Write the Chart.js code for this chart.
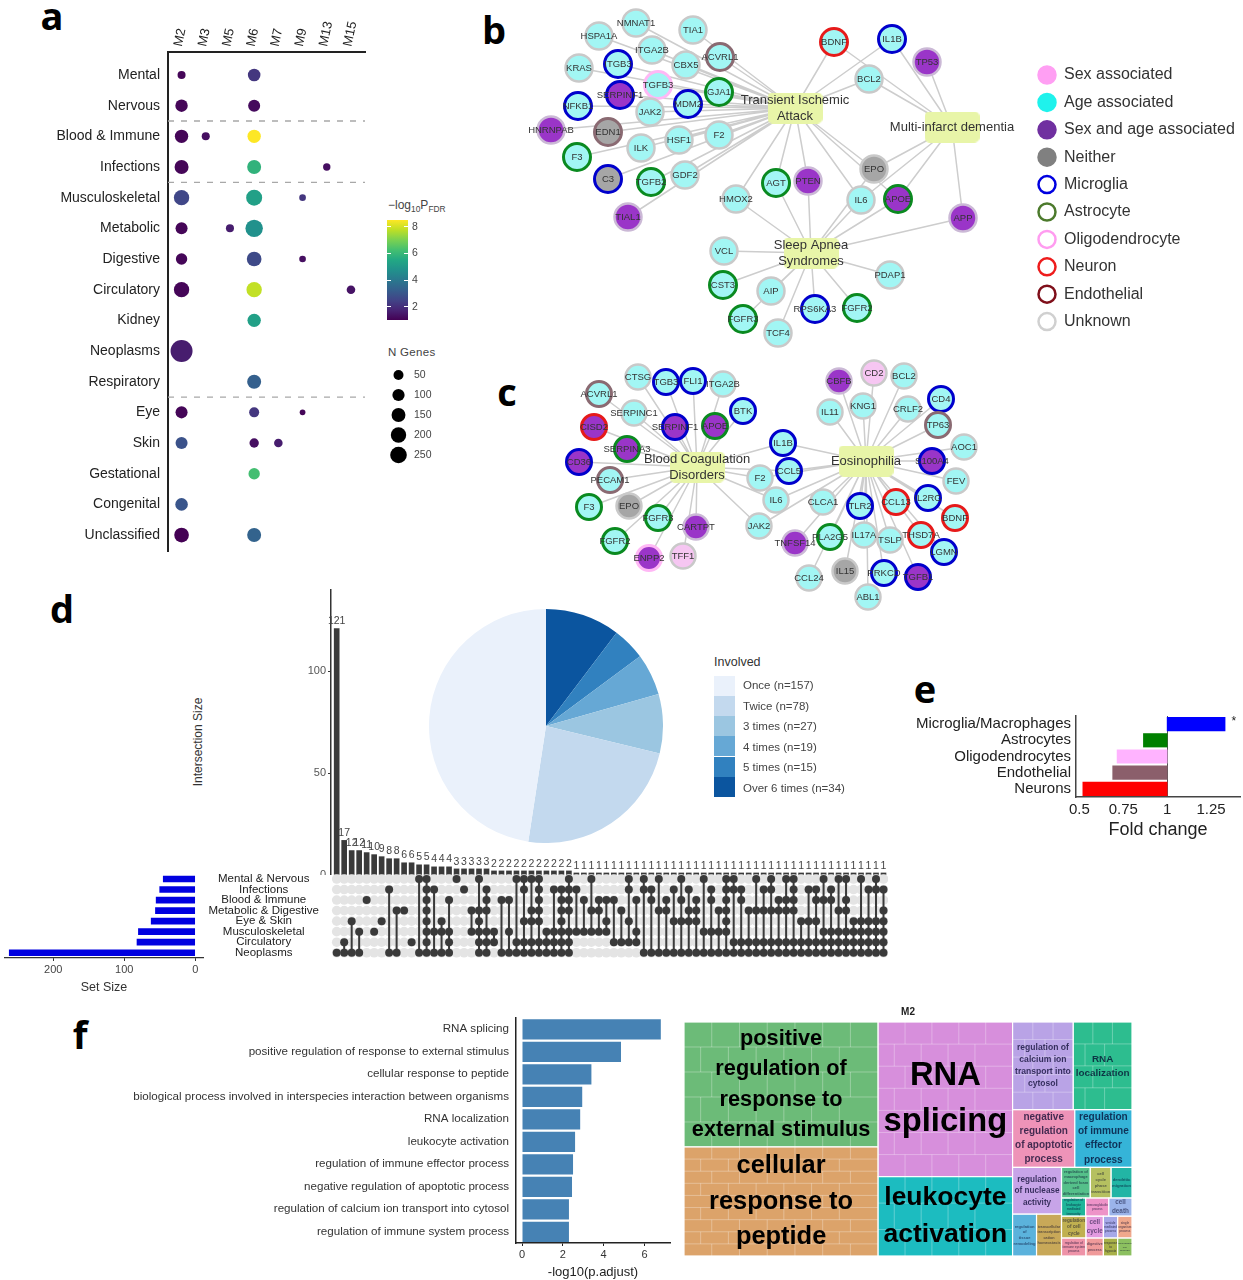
<!DOCTYPE html>
<html>
<head>
<meta charset="utf-8">
<title>Disease enrichment figure</title>
<script src="https://cdn.jsdelivr.net/npm/chart.js@4"></script>
<style>
  html, body { margin: 0; padding: 0; background: #fff; }
  #page { position: relative; width: 1243px; height: 1280px; overflow: hidden; font-family: "Liberation Sans", Arial, sans-serif; color: #333; }
  #page canvas { position: absolute; }
  .txt { position: absolute; white-space: nowrap; line-height: 1; }
  .letter { font: 700 38px "Open Sans", sans-serif; color: #000; transform: translate(-50%, -50%); }
  .swatch { position: absolute; width: 21px; height: 20px; }
  sub { font-size: 70%; }
</style>
</head>
<body>
<div id="page"></div>
<script>
// ---- panel a: modules vs disease groups
const moduleNames = ['M2', 'M3', 'M5', 'M6', 'M7', 'M9', 'M13', 'M15'];
const diseaseNames = ['Mental', 'Nervous', 'Blood & Immune', 'Infections', 'Musculoskeletal', 'Metabolic', 'Digestive', 'Circulatory', 'Kidney', 'Neoplasms', 'Respiratory', 'Eye', 'Skin', 'Gestational', 'Congenital', 'Unclassified'];
const enrichDisease = [0, 0, 1, 1, 2, 2, 2, 3, 3, 3, 4, 4, 4, 5, 5, 5, 6, 6, 6, 7, 7, 7, 8, 9, 10, 11, 11, 11, 12, 12, 12, 13, 14, 15, 15];
const enrichModule = ['M2', 'M6', 'M2', 'M6', 'M2', 'M3', 'M6', 'M2', 'M6', 'M13', 'M2', 'M6', 'M9', 'M2', 'M5', 'M6', 'M2', 'M6', 'M9', 'M2', 'M6', 'M15', 'M6', 'M2', 'M6', 'M2', 'M6', 'M9', 'M2', 'M6', 'M7', 'M6', 'M2', 'M2', 'M6'];
const enrichGenes = [20, 110, 105, 95, 133, 20, 133, 152, 152, 13, 200, 225, 7, 95, 20, 285, 79, 175, 7, 200, 200, 27, 133, 526, 152, 95, 50, 2, 95, 39, 27, 79, 110, 175, 152];
const enrichLogP = [1.1, 2.2, 1.1, 1.2, 1.1, 1.3, 8.6, 1.1, 5.9, 1.3, 2.6, 5.3, 2.2, 1.1, 1.6, 4.8, 1.1, 2.7, 1.3, 1.1, 7.9, 1.4, 5.3, 1.6, 3.3, 1.1, 2.2, 1.1, 2.9, 1.3, 1.6, 6.3, 3.0, 1.0, 3.4];
const groupBreaks = [1.5, 3.5, 10.5];
const genesLegend = [50, 100, 150, 200, 250];
const colorbarTicks = [2, 4, 6, 8];

// ---- panel b: network
const bHubs = [['Transient Ischemic\nAttack', 795, 108], ['Multi-infarct dementia', 952, 127], ['Sleep Apnea\nSyndromes', 811, 253]];
const bNodes = [
  ['NMNAT1', 636, 23, 'age', 'grey'], ['TIA1', 693, 30, 'age', 'grey'], ['HSPA1A', 599, 36, 'age', 'grey'], ['ITGA2B', 652, 50, 'age', 'grey'],
  ['KRAS', 579, 68, 'age', 'grey'], ['CBX5', 686, 65, 'age', 'grey'], ['ITGB3', 618, 64, 'age', 'micro'], ['ACVRL1', 720, 57, 'age', 'endo'],
  ['TGFB3', 658, 85, 'age', 'oligo'], ['SERPINF1', 620, 95, 'both', 'micro'], ['GJA1', 719, 92, 'age', 'astro'], ['NFKB1', 578, 106, 'age', 'micro'],
  ['JAK2', 650, 112, 'age', 'grey'], ['MDM2', 688, 104, 'age', 'micro'], ['HNRNPAB', 551, 130, 'both', 'lilac'], ['EDN1', 608, 132, 'none', 'endo'],
  ['ILK', 641, 148, 'age', 'grey'], ['HSF1', 679, 140, 'age', 'grey'], ['F2', 719, 135, 'age', 'grey'], ['F3', 577, 157, 'age', 'astro'],
  ['C3', 608, 179, 'none', 'micro'], ['GDF2', 685, 175, 'age', 'grey'], ['TGFB2', 651, 182, 'age', 'astro'], ['TIAL1', 628, 217, 'both', 'lilac'],
  ['BDNF', 834, 42, 'age', 'neuron'], ['IL1B', 892, 39, 'age', 'micro'], ['TP53', 927, 62, 'both', 'lilac'], ['BCL2', 869, 79, 'age', 'grey'],
  ['EPO', 874, 169, 'none', 'grey'], ['HMOX2', 736, 199, 'age', 'grey'], ['AGT', 776, 183, 'age', 'astro'], ['PTEN', 808, 181, 'both', 'lilac'],
  ['IL6', 861, 200, 'age', 'grey'], ['APOE', 898, 199, 'both', 'astro'], ['APP', 963, 218, 'both', 'lilac'], ['VCL', 724, 251, 'age', 'grey'],
  ['CST3', 723, 285, 'age', 'astro'], ['AIP', 771, 291, 'age', 'grey'], ['FGFR3', 743, 319, 'age', 'astro'], ['TCF4', 778, 333, 'age', 'grey'],
  ['RPS6KA3', 815, 309, 'age', 'micro'], ['FGFR2', 857, 308, 'age', 'astro'], ['PDAP1', 890, 275, 'age', 'grey']
];
const tiaGenes = ['NMNAT1', 'TIA1', 'HSPA1A', 'ITGA2B', 'KRAS', 'ITGB3', 'ACVRL1', 'CBX5', 'TGFB3', 'SERPINF1', 'GJA1', 'NFKB1', 'MDM2', 'JAK2', 'HNRNPAB', 'EDN1', 'ILK', 'HSF1', 'F2', 'F3', 'C3', 'TGFB2', 'GDF2', 'TIAL1', 'BDNF', 'IL1B', 'BCL2', 'EPO', 'HMOX2', 'AGT', 'PTEN', 'IL6', 'APOE'];
const midGenes = ['TP53', 'BCL2', 'IL1B', 'BDNF', 'EPO', 'IL6', 'APOE', 'APP'];
const apneaGenes = ['HMOX2', 'AGT', 'PTEN', 'IL6', 'APOE', 'EPO', 'APP', 'VCL', 'CST3', 'AIP', 'FGFR3', 'TCF4', 'RPS6KA3', 'FGFR2', 'PDAP1'];

// ---- panel b legend
const keyNames = ['Sex associated', 'Age associated', 'Sex and age associated', 'Neither', 'Microglia', 'Astrocyte', 'Oligodendrocyte', 'Neuron', 'Endothelial', 'Unknown'];

// ---- panel c: network
const cHubs = [['Blood Coagulation\nDisorders', 697, 467], ['Eosinophilia', 866, 461]];
const cNodes = [
  ['CTSG', 638, 377, 'age', 'grey'], ['ITGA2B', 723, 384, 'age', 'grey'], ['TGB3', 666, 382, 'age', 'micro'], ['FLI1', 693, 381, 'age', 'micro'],
  ['BTK', 743, 411, 'age', 'micro'], ['ACVRL1', 599, 394, 'age', 'endo'], ['SERPINC1', 634, 413, 'age', 'grey'], ['SERPINF1', 675, 427, 'both', 'micro'],
  ['APOE', 715, 426, 'both', 'astro'], ['CISD2', 594, 427, 'both', 'neuron'], ['SERPINA3', 627, 449, 'both', 'astro'], ['CD36', 579, 462, 'both', 'micro'],
  ['PECAM1', 610, 480, 'age', 'endo'], ['F3', 589, 507, 'age', 'astro'], ['EPO', 629, 506, 'none', 'grey'], ['FGFR3', 658, 518, 'age', 'astro'],
  ['CARTPT', 696, 527, 'both', 'lilac'], ['FGFR2', 615, 541, 'age', 'astro'], ['ENPP2', 649, 558, 'both', 'oligo'], ['TFF1', 683, 556, 'sex', 'grey'],
  ['F2', 760, 478, 'age', 'grey'], ['IL6', 776, 500, 'age', 'grey'], ['JAK2', 759, 526, 'age', 'grey'], ['IL1B', 783, 443, 'age', 'micro'], ['CCL5', 789, 471, 'age', 'micro'],
  ['CBFB', 839, 381, 'both', 'lilac'], ['CD2', 874, 373, 'sex', 'grey'], ['BCL2', 904, 376, 'age', 'grey'], ['IL11', 830, 412, 'age', 'grey'],
  ['KNG1', 863, 406, 'age', 'grey'], ['CRLF2', 908, 409, 'age', 'grey'], ['CD4', 941, 399, 'age', 'micro'], ['TP63', 938, 425, 'age', 'endo'],
  ['AOC1', 964, 447, 'age', 'grey'], ['S100A4', 932, 461, 'both', 'micro'], ['FEV', 956, 481, 'age', 'grey'], ['IL2RG', 928, 498, 'age', 'micro'],
  ['CCL13', 896, 502, 'age', 'neuron'], ['BDNF', 955, 518, 'age', 'neuron'], ['TSLP', 890, 540, 'age', 'grey'], ['THSD7A', 921, 535, 'age', 'neuron'], ['LGMN', 944, 552, 'age', 'micro'],
  ['CLCA1', 823, 502, 'age', 'grey'], ['IL17A', 864, 535, 'age', 'grey'], ['TLR2', 860, 506, 'age', 'micro'], ['TNFSF14', 795, 543, 'both', 'lilac'], ['PLA2G5', 830, 537, 'age', 'astro'],
  ['CCL24', 809, 578, 'age', 'grey'], ['IL15', 845, 571, 'none', 'grey'], ['ABL1', 868, 597, 'age', 'grey'], ['PRKCD', 884, 573, 'age', 'micro'], ['TGFB1', 918, 577, 'both', 'micro']
];
const coagGenes = ['CTSG', 'TGB3', 'FLI1', 'ITGA2B', 'BTK', 'ACVRL1', 'SERPINC1', 'SERPINF1', 'APOE', 'CISD2', 'SERPINA3', 'CD36', 'PECAM1', 'F3', 'EPO', 'FGFR3', 'CARTPT', 'FGFR2', 'ENPP2', 'TFF1', 'F2', 'IL6', 'JAK2', 'IL1B', 'CCL5'];
const eosinGenes = ['CBFB', 'CD2', 'BCL2', 'IL11', 'KNG1', 'CRLF2', 'CD4', 'TP63', 'AOC1', 'S100A4', 'FEV', 'IL2RG', 'CCL13', 'BDNF', 'THSD7A', 'LGMN', 'TLR2', 'CLCA1', 'IL17A', 'TSLP', 'PLA2G5', 'TNFSF14', 'CCL24', 'IL15', 'PRKCD', 'TGFB1', 'ABL1', 'IL1B', 'CCL5', 'F2', 'IL6', 'JAK2'];

// ---- panel d: upset plot + pie
const intersectionSizes = [121, 17, 12, 12, 11, 10, 9, 8, 8, 6, 6, 5, 5, 4, 4, 4, 3, 3, 3, 3, 3, 2, 2, 2, 2, 2, 2, 2, 2, 2, 2, 2, 1, 1, 1, 1, 1, 1, 1, 1, 1, 1, 1, 1, 1, 1, 1, 1, 1, 1, 1, 1, 1, 1, 1, 1, 1, 1, 1, 1, 1, 1, 1, 1, 1, 1, 1, 1, 1, 1, 1, 1, 1, 1];
const setNames = ['Mental & Nervous', 'Infections', 'Blood & Immune', 'Metabolic & Digestive', 'Eye & Skin', 'Musculoskeletal', 'Circulatory', 'Neoplasms'];
const setSizes = [45, 50, 55, 56, 62, 80, 82, 262];
const setTicks = [0, 100, 200];
const intersectionTicks = [0, 50, 100];
const intersectionMembers = [
  [7], [6, 7], [4, 7], [5, 7], [2], [5], [4], [1, 7], [3, 7], [3], [6], [0, 7], [0, 1, 2, 3, 4, 5, 6, 7], [1, 5, 7], [4, 5, 7], [2, 5, 6, 7],
  [0], [1], [3, 5], [0, 3, 4, 5, 6, 7], [1, 2, 3, 5, 6, 7], [5, 6], [2, 7], [2, 5, 7], [0, 6, 7], [0, 1, 4, 6, 7], [0, 3, 4, 6, 7], [0, 1, 2, 3, 4, 6, 7],
  [5, 6, 7], [1, 5, 6, 7], [1, 2, 3, 4, 5, 6, 7], [0, 1, 2, 3, 5, 6, 7],
  [1, 5], [2, 5], [0, 3, 5], [2, 3, 5], [2, 4, 5], [2, 6], [3, 6], [0, 1, 4, 6], [2, 5, 6],
  [0, 1, 7], [1, 2, 7], [0, 3, 7], [2, 3, 7], [1, 4, 7], [0, 2, 4, 7], [1, 3, 4, 7], [2, 3, 4, 7], [0, 5, 7], [1, 2, 5, 7], [3, 5, 7], [0, 1, 2, 3, 4, 5, 7],
  [0, 1, 6, 7], [1, 2, 6, 7], [3, 6, 7], [0, 3, 6, 7], [1, 3, 6, 7], [0, 1, 3, 6, 7], [2, 3, 6, 7], [0, 2, 3, 6, 7], [0, 1, 2, 3, 6, 7],
  [4, 6, 7], [1, 4, 6, 7], [1, 2, 4, 6, 7], [0, 2, 5, 6, 7], [1, 2, 5, 6, 7], [0, 3, 5, 6, 7], [0, 2, 3, 5, 6, 7], [4, 5, 6, 7], [0, 4, 5, 6, 7], [1, 4, 5, 6, 7], [0, 1, 4, 5, 6, 7], [1, 3, 4, 5, 6, 7]
];
const involvedNames = ['Once (n=157)', 'Twice (n=78)', '3 times (n=27)', '4 times (n=19)', '5 times (n=15)', 'Over 6 times (n=34)'];
const involvedCounts = [157, 78, 27, 19, 15, 34];
const involvedColors = ['#eaf1fb', '#c3d9ee', '#9bc6e1', '#66a8d5', '#3181bf', '#0b559f'];

// ---- panel e
const cellTypes = ['Microglia/Macrophages', 'Astrocytes', 'Oligodendrocytes', 'Endothelial', 'Neurons'];
const foldChanges = [1.33, 0.865, 0.715, 0.69, 0.52];
const foldColors = ['#0000ff', '#008000', '#ffb3ff', '#8b5f6b', '#ff0000'];
const foldMarks = ['*', '', '', '', ''];
const foldTicks = [0.5, 0.75, 1, 1.25];

// ---- panel f: bars
const goTerms = ['RNA splicing', 'positive regulation of response to external stimulus', 'cellular response to peptide', 'biological process involved in interspecies interaction between organisms', 'RNA localization', 'leukocyte activation', 'regulation of immune effector process', 'negative regulation of apoptotic process', 'regulation of calcium ion transport into cytosol', 'regulation of immune system process'];
const goScores = [6.8, 4.85, 3.4, 2.95, 2.85, 2.6, 2.5, 2.45, 2.3, 2.3];
const goTicks = [0, 2, 4, 6];

// ---- panel f: treemap, sizes estimated from tile areas
const treeLabels = [
  ['positive', 'regulation of', 'response to', 'external stimulus'], ['cellular', 'response to', 'peptide'], ['RNA', 'splicing'], ['leukocyte', 'activation'],
  ['regulation of', 'calcium ion', 'transport into', 'cytosol'], ['RNA', 'localization'], ['negative', 'regulation', 'of apoptotic', 'process'], ['regulation', 'of immune', 'effector', 'process'],
  ['regulation', 'of nuclease', 'activity'], ['regulation', 'of', 'tissue', 'remodeling'], ['transcellular', 'transcription', 'cation', 'homeostasis'],
  ['regulation of', 'macrophage', 'derived foam', 'cell', 'differentiation'], ['cell', 'cycle', 'phase', 'transition'], ['dendritic', 'migration'],
  ['regulation of', 'leukocyte', 'mediated', 'immunity'], ['immunoglobulin', 'process'], ['cell', 'death'],
  ['regulation', 'of cell', 'cycle'], ['cell', 'cycle'], ['vesicle', 'mediated', 'process'], ['single', 'organism', 'process'],
  ['regulation of', 'immune system', 'process'], ['digestive', 'process'], ['response', 'to', 'hypoxia'], ['developing', 'cell', 'process']
];
const treeSizes = [23900, 20850, 20482, 10507, 5246, 5074, 3534, 3249, 2256, 987, 1029, 870, 630, 630, 432, 414, 414, 528, 374, 308, 308, 432, 306, 252, 252];
const treeColors = ['#6cbb78', '#dca36a', '#d78fdc', '#1cbcc0', '#b9a3e6', '#2dbd8f', '#ee93b8', '#35b4d8', '#c7a4e8', '#5bb2dc', '#c8a858', '#55c08a', '#b5c060', '#22b5a5', '#1fb59a', '#ee93c8', '#9bb4ea', '#c0b050', '#e39be0', '#a6a8e8', '#f0a88c', '#ee93a8', '#f09a9a', '#a8b048', '#8cc060'];
const treeInner = [[5, 7], [9, 7], [7, 5], [3, 5], [5, 3], [4, 3]];
const treeNesting = ['h', ['v', 0, 1], ['v', 2, 3], ['v', ['h', 4, 5], ['h', 6, 7],
  ['h', ['v', 8, ['h', 9, 10]], ['v', ['h', 11, 12, 13], ['h', 14, 15, 16], ['h', 17, 18, 19, 20], ['h', 21, 22, 23, 24]]]]];

// ---- shared setup
const page = document.getElementById('page');
const sans = '"Liberation Sans", Arial, sans-serif';
Chart.defaults.font.family = sans;
Chart.defaults.animation = false;
Chart.defaults.responsive = false;
Chart.defaults.plugins.legend.display = false;
Chart.defaults.plugins.tooltip.enabled = false;
Chart.defaults.layout.autoPadding = false;

function addChart(x, y, w, h, config) {
  const canvas = document.createElement('canvas');
  canvas.width = w;
  canvas.height = h;
  canvas.style.left = x + 'px';
  canvas.style.top = y + 'px';
  page.appendChild(canvas);
  return new Chart(canvas, config);
}

function addText(html, x, y, css) {
  const div = document.createElement('div');
  div.className = 'txt';
  div.innerHTML = html;
  div.style.left = x + 'px';
  div.style.top = y + 'px';
  div.style.cssText += css || '';
  page.appendChild(div);
  return div;
}

const fixedTicks = values => scale => { scale.ticks = values.map(v => ({ value: v })); };
// axis boxes get a set size and no tick-label overhang, so plot areas land where they should
const noOverhang = scale => { scale.paddingTop = scale.paddingBottom = scale.paddingLeft = scale.paddingRight = 0; };
const fixWidth = w => scale => { scale.width = w; noOverhang(scale); };
const fixHeight = h => scale => { scale.height = h; noOverhang(scale); };
const plainGrid = { display: false, drawTicks: false };

[['a', 52, 15], ['b', 494, 29], ['c', 507, 391], ['d', 62, 608], ['e', 925, 688], ['f', 80, 1034]].forEach(l => {
  addText(l[0], l[1], l[2]).classList.add('letter');
});

// viridis colours for the -log10 P scale
const viridisStops = ['#440154', '#482475', '#414487', '#355f8d', '#2a788e', '#21918c', '#22a884', '#44bf70', '#7ad151', '#bddf26', '#fde725'];
const logPMin = 1, logPMax = 8.6;
function viridis(p) {
  const t = Math.min(1, Math.max(0, (p - logPMin) / (logPMax - logPMin))) * (viridisStops.length - 1);
  const i = Math.min(Math.floor(t), viridisStops.length - 2);
  const f = t - i;
  const a = parseInt(viridisStops[i].slice(1), 16), b = parseInt(viridisStops[i + 1].slice(1), 16);
  const mix = s => Math.round(((a >> s) & 255) * (1 - f) + ((b >> s) & 255) * f);
  return `rgb(${mix(16)},${mix(8)},${mix(0)})`;
}
const genesRadius = n => 2.33 + 0.378 * Math.sqrt(n);

// ---- panel a
addChart(40, 15, 340, 545, {
  type: 'bubble',
  data: {
    datasets: [
      {
        data: enrichGenes.map((n, i) => ({ x: moduleNames.indexOf(enrichModule[i]), y: enrichDisease[i], r: genesRadius(n) })),
        backgroundColor: enrichLogP.map(viridis),
        borderWidth: 0,
        order: 1
      },
      {
        type: 'line',
        data: groupBreaks.flatMap(b => [{ x: -0.56, y: b }, { x: 7.58, y: b }, { x: 0, y: null }]),
        borderColor: '#a8a8a8',
        borderWidth: 1.3,
        borderDash: [6, 7],
        pointRadius: 0,
        spanGaps: false,
        order: 2
      }
    ]
  },
  options: {
    layout: { padding: { right: 15, bottom: 9 } },
    scales: {
      x: {
        type: 'linear', position: 'top', min: -0.56, max: 7.58,
        afterBuildTicks: fixedTicks(moduleNames.map((m, i) => i)),
        afterFit: fixHeight(37),
        grid: plainGrid,
        border: { color: '#222', width: 2 },
        ticks: { callback: v => moduleNames[v], minRotation: 78, maxRotation: 78, autoSkip: false, padding: 4, labelOffset: 12, color: '#222', font: { size: 13 } }
      },
      y: {
        type: 'linear', reverse: true, min: -0.75, max: 15.52,
        afterBuildTicks: fixedTicks(diseaseNames.map((m, i) => i)),
        afterFit: fixWidth(128),
        grid: plainGrid,
        border: { color: '#222', width: 2 },
        ticks: { callback: v => diseaseNames[v], autoSkip: false, padding: 8, color: '#222', font: { size: 14 } }
      }
    }
  }
});

addText('\u2212log<sub>10</sub>P<sub>FDR</sub>', 388, 199, 'font-size:12px;color:#444;');
addChart(387, 215, 40, 110, {
  type: 'bar',
  data: {
    labels: ['logP'],
    datasets: [{
      data: [[logPMin, 8.5]],
      barPercentage: 1,
      categoryPercentage: 1,
      backgroundColor: ctx => {
        const area = ctx.chart.chartArea;
        if (!area) return viridisStops[0];
        const g = ctx.chart.ctx.createLinearGradient(0, area.bottom, 0, area.top);
        viridisStops.forEach((c, i) => g.addColorStop(i / (viridisStops.length - 1), c));
        return g;
      }
    }]
  },
  options: {
    layout: { padding: { top: 5, bottom: 5 } },
    scales: {
      x: { display: false },
      y: {
        position: 'right', min: logPMin, max: 8.5,
        afterBuildTicks: fixedTicks(colorbarTicks),
        afterFit: fixWidth(19),
        border: { display: false, dash: [4, 13] },
        grid: { z: 1, color: '#fff', drawTicks: false },
        ticks: { padding: 4, color: '#444', font: { size: 10.5 } }
      }
    }
  }
});

addText('N Genes', 388, 347, 'font-size:11.5px;color:#444;letter-spacing:.3px;');
addChart(387, 365, 60, 100, {
  type: 'bubble',
  data: {
    datasets: [{
      data: genesLegend.map((n, i) => ({ x: 0.5, y: i, r: genesRadius(n) })),
      backgroundColor: '#000',
      borderWidth: 0
    }]
  },
  options: {
    scales: {
      x: { display: false, min: 0, max: 1 },
      y: {
        position: 'right', reverse: true, min: -0.5, max: 4.5,
        afterBuildTicks: fixedTicks(genesLegend.map((n, i) => i)),
        afterFit: fixWidth(37),
        border: { display: false },
        grid: plainGrid,
        ticks: { callback: v => genesLegend[v], padding: 4, color: '#444', font: { size: 10.5 } }
      }
    }
  }
});

// ---- panels b and c: networks
const nodeFills = { sex: '#f6c6f2', age: '#a2f6f4', both: '#9a35c8', none: '#a6a6a6' };
const nodeRings = { grey: '#c9c9c9', lilac: '#cbb9d6', micro: '#0000cc', astro: '#0a8a20', oligo: '#ffb8f5', neuron: '#e61a1a', endo: '#8a6a72' };
const keyFills = ['#ff9ff3', '#1ff2ec', '#7030a0', '#808080', '#fff', '#fff', '#fff', '#fff', '#fff', '#fff'];
const keyRings = ['#ff9ff3', '#1ff2ec', '#7030a0', '#808080', '#0000e0', '#4c7a2c', '#ff9cf0', '#ee1c1c', '#7f0f1a', '#d0d0d0'];

function hubSprite() {
  const c = document.createElement('canvas');
  c.width = 55;
  c.height = 31;
  const g = c.getContext('2d');
  g.fillStyle = '#e8f5a8';
  g.beginPath();
  g.roundRect(0, 0, 55, 31, 5);
  g.fill();
  return c;
}

// writes the gene, hub and key names on top of the points
const nodeTextPlugin = {
  id: 'nodeText',
  afterDatasetsDraw(chart) {
    const g = chart.ctx;
    chart.data.datasets.forEach((ds, di) => {
      if (!ds.nodeText) return;
      const pts = chart.getDatasetMeta(di).data;
      g.save();
      g.font = ds.textFont;
      g.fillStyle = ds.textColor;
      g.textAlign = ds.textAlign;
      g.textBaseline = 'middle';
      pts.forEach((p, i) => {
        const lines = ds.nodeText[i].split('\n');
        lines.forEach((line, k) => {
          g.fillText(line, p.x + ds.textShift, p.y + (k - (lines.length - 1) / 2) * ds.textLeading);
        });
      });
      g.restore();
    });
  }
};

function addNetwork(x, y, w, h, nodes, hubs, links, radius, extra) {
  const where = {};
  nodes.forEach(n => { where[n[0]] = n; });
  const edges = [];
  links.forEach((genes, hi) => {
    genes.forEach(name => {
      edges.push({ x: hubs[hi][1], y: hubs[hi][2] }, { x: where[name][1], y: where[name][2] }, { x: 0, y: null });
    });
  });
  const sprite = hubSprite();
  const datasets = [
    { type: 'line', data: edges, borderColor: '#cdcdcd', borderWidth: 1.5, pointRadius: 0, spanGaps: false, order: 3 },
    {
      data: hubs.map(b => ({ x: b[1], y: b[2] })), pointStyle: sprite, pointRadius: 5, order: 2,
      nodeText: hubs.map(b => b[0]), textFont: `13px ${sans}`, textColor: '#333', textAlign: 'center', textShift: 0, textLeading: 16
    },
    {
      data: nodes.map(n => ({ x: n[1], y: n[2] })),
      pointRadius: radius,
      pointBackgroundColor: nodes.map(n => nodeFills[n[3]]),
      pointBorderColor: nodes.map(n => nodeRings[n[4]]),
      pointBorderWidth: nodes.map(n => (n[4] === 'grey' || n[4] === 'lilac' ? 2.5 : 3)),
      order: 1,
      nodeText: nodes.map(n => n[0]), textFont: `9.5px ${sans}`, textColor: '#333', textAlign: 'center', textShift: 0, textLeading: 10
    }
  ];
  addChart(x, y, w, h, {
    type: 'scatter',
    data: { datasets: datasets.concat(extra || []) },
    options: {
      scales: {
        x: { display: false, min: x, max: x + w },
        y: { display: false, reverse: true, min: y, max: y + h }
      }
    },
    plugins: [nodeTextPlugin]
  });
}

addNetwork(480, 0, 763, 350, bNodes, bHubs, [tiaGenes, midGenes, apneaGenes], 13.5, [{
  data: keyNames.map((k, i) => ({ x: 1047, y: 75 + 27.4 * i })),
  pointRadius: 8.5,
  pointBackgroundColor: keyFills,
  pointBorderColor: keyRings,
  pointBorderWidth: 2.5,
  order: 0,
  nodeText: keyNames, textFont: `16px ${sans}`, textColor: '#333', textAlign: 'left', textShift: 17, textLeading: 16
}]);
addNetwork(500, 350, 500, 270, cNodes, cHubs, [coagGenes, eosinGenes], 12.5);

// ---- panel d: pie and its legend
addChart(429, 609, 234, 234, {
  type: 'pie',
  data: {
    labels: involvedNames.slice().reverse(),
    datasets: [{ data: involvedCounts.slice().reverse(), backgroundColor: involvedColors.slice().reverse(), borderWidth: 0 }]
  }
});
addText('Involved', 714, 656, 'font-size:12.5px;color:#333;');
involvedNames.forEach((name, i) => {
  const box = document.createElement('div');
  box.className = 'swatch';
  box.style.left = '714px';
  box.style.top = (675.5 + i * 20.3) + 'px';
  box.style.background = involvedColors[i];
  page.appendChild(box);
  addText(name, 743, 680 + i * 20.5, 'font-size:11.5px;color:#444;');
});

// ---- panel d: intersection bars
const barValuePlugin = {
  id: 'barValues',
  afterDatasetsDraw(chart) {
    const g = chart.ctx;
    g.save();
    g.font = `10.5px ${sans}`;
    g.fillStyle = '#444';
    g.textAlign = 'center';
    g.textBaseline = 'bottom';
    chart.getDatasetMeta(0).data.forEach((bar, i) => g.fillText(intersectionSizes[i], bar.x, bar.y - 2));
    g.restore();
  }
};
const upsetMin = -0.76, upsetMax = 73.6;
addChart(290, 585, 605, 290, {
  type: 'bar',
  data: {
    datasets: [{
      data: intersectionSizes.map((v, i) => ({ x: i, y: v })),
      backgroundColor: '#3a3a3a',
      barThickness: 5
    }]
  },
  options: {
    layout: { padding: { right: 7, top: 5 } },
    scales: {
      x: { type: 'linear', offset: false, min: upsetMin, max: upsetMax, display: false },
      y: {
        min: 0, max: 140,
        afterBuildTicks: fixedTicks(intersectionTicks),
        afterFit: fixWidth(41),
        border: { color: '#333', width: 1.5 },
        grid: { drawOnChartArea: false, tickLength: 3, color: '#333' },
        ticks: { padding: 2, color: '#555', font: { size: 11 } }
      }
    }
  },
  plugins: [barValuePlugin]
});
addText('Intersection Size', 198, 742, 'font-size:12px;color:#333;transform:translate(-50%,-50%) rotate(-90deg);');

// ---- panel d: membership matrix
addChart(205, 868, 690, 94, {
  type: 'scatter',
  data: {
    datasets: [
      {
        data: intersectionMembers.flatMap((m, i) => [{ x: i, y: m[0] }, { x: i, y: m[m.length - 1] }, { x: i, y: null }]),
        type: 'line',
        borderColor: '#3a3a3a',
        borderWidth: 2,
        pointRadius: 0,
        spanGaps: false,
        order: 2
      },
      {
        data: intersectionMembers.flatMap((m, i) => m.map(r => ({ x: i, y: r }))),
        backgroundColor: '#3a3a3a',
        borderWidth: 0,
        pointRadius: 4,
        order: 1
      },
      {
        data: intersectionMembers.flatMap((m, i) => setNames.map((s, r) => ({ x: i, y: r }))),
        backgroundColor: '#e4e4e4',
        borderWidth: 0,
        pointRadius: 4.8,
        order: 3
      }
    ]
  },
  options: {
    layout: { padding: { right: 7 } },
    scales: {
      x: { type: 'linear', min: upsetMin, max: upsetMax, display: false },
      y: {
        reverse: true, min: -1.045, max: 7.88,
        afterBuildTicks: fixedTicks(setNames.map((s, i) => i)),
        afterFit: fixWidth(126),
        border: { display: false },
        grid: plainGrid,
        ticks: { callback: v => setNames[v], crossAlign: 'center', padding: 12, autoSkip: false, color: '#222', font: { size: 11.5 } }
      }
    }
  }
});

// ---- panel d: set sizes
addChart(0, 868, 210, 127, {
  type: 'bar',
  data: {
    datasets: [{
      data: setSizes.map((v, i) => ({ x: v, y: i })),
      backgroundColor: '#0000e0',
      barThickness: 6
    }]
  },
  options: {
    indexAxis: 'y',
    layout: { padding: { left: 5, right: 7 } },
    scales: {
      y: { type: 'linear', offset: false, reverse: true, min: -1.045, max: 7.5, display: false },
      x: {
        type: 'linear', reverse: true, min: -11, max: 268,
        afterBuildTicks: fixedTicks(setTicks),
        afterFit: fixHeight(37),
        border: { color: '#333', width: 1.2 },
        grid: { drawOnChartArea: false, tickLength: 3, color: '#333' },
        ticks: { padding: 2, color: '#444', font: { size: 11 } },
        title: { display: true, text: 'Set Size', color: '#333', font: { size: 12.5 }, padding: 0 }
      }
    }
  }
});

// ---- panel e
const foldMarkPlugin = {
  id: 'foldMarks',
  afterDatasetsDraw(chart) {
    const g = chart.ctx;
    g.save();
    g.font = `12px ${sans}`;
    g.fillStyle = '#222';
    g.textAlign = 'center';
    chart.getDatasetMeta(0).data.forEach((bar, i) => {
      g.fillText(foldMarks[i], chart.scales.x.getPixelForValue(foldChanges[i] + 0.05), bar.y + 1);
    });
    g.restore();
  }
};
addChart(900, 705, 343, 136, {
  type: 'bar',
  data: {
    labels: cellTypes,
    datasets: [{ data: foldChanges.map(v => [v, 1]), backgroundColor: foldColors, barThickness: 13.5 }]
  },
  options: {
    indexAxis: 'y',
    layout: { padding: { top: 11, right: 3 } },
    scales: {
      y: {
        afterFit: fixWidth(176),
        border: { color: '#444', width: 1.5 },
        grid: plainGrid,
        ticks: { autoSkip: false, padding: 5, color: '#222', font: { size: 15 } }
      },
      x: {
        type: 'linear', min: 0.481, max: 1.415,
        afterBuildTicks: fixedTicks(foldTicks),
        afterFit: fixHeight(44),
        border: { color: '#444', width: 1.5 },
        grid: { drawTicks: false, color: c => (c.tick && c.tick.value === 1 ? '#555' : 'transparent') },
        ticks: { callback: v => String(v), padding: 4, color: '#222', font: { size: 15 } },
        title: { display: true, text: 'Fold change', color: '#222', font: { size: 18 }, padding: 0 }
      }
    }
  },
  plugins: [foldMarkPlugin]
});

// ---- panel f: bars
addChart(120, 1010, 555, 270, {
  type: 'bar',
  data: {
    labels: goTerms,
    datasets: [{ data: goScores, backgroundColor: '#4682b4', barPercentage: 1, categoryPercentage: 0.9 }]
  },
  options: {
    indexAxis: 'y',
    layout: { padding: { top: 8, right: 5 } },
    scales: {
      y: {
        afterFit: fixWidth(396),
        border: { color: '#222', width: 1.5 },
        grid: plainGrid,
        ticks: { autoSkip: false, padding: 7, color: '#333', font: { size: 11.6 } }
      },
      x: {
        type: 'linear', min: -0.294, max: 7.25,
        afterBuildTicks: fixedTicks(goTicks),
        afterFit: fixHeight(37),
        border: { color: '#222', width: 1.5 },
        grid: { drawOnChartArea: false, tickLength: 3, color: '#222' },
        ticks: { padding: 2, color: '#333', font: { size: 11 } },
        title: { display: true, text: '-log10(p.adjust)', color: '#222', font: { size: 13 }, padding: 0 }
      }
    }
  }
});

// ---- panel f: treemap, tiles sized from treeSizes on the chart's 0-1 scales
function treeTotal(node) {
  if (typeof node === 'number') return treeSizes[node];
  return node.slice(1).reduce((s, k) => s + treeTotal(k), 0);
}
function treeLayout(node, x0, y0, x1, y1, out) {
  if (typeof node === 'number') {
    out.push({ term: node, x0, y0, x1, y1 });
    return out;
  }
  const total = treeTotal(node);
  let pos = node[0] === 'h' ? x0 : y0;
  node.slice(1).forEach(kid => {
    const span = (treeTotal(kid) / total) * (node[0] === 'h' ? x1 - x0 : y1 - y0);
    if (node[0] === 'h') treeLayout(kid, pos, y0, pos + span, y1, out);
    else treeLayout(kid, x0, pos, x1, pos + span, out);
    pos += span;
  });
  return out;
}
const treemapPlugin = {
  id: 'treemap',
  beforeDatasetsDraw(chart) {
    const g = chart.ctx;
    const sx = chart.scales.x, sy = chart.scales.y;
    const tiles = treeLayout(treeNesting, 0, 0, 1, 1, []);
    g.save();
    tiles.forEach(t => {
      const left = sx.getPixelForValue(t.x0), right = sx.getPixelForValue(t.x1);
      const top = sy.getPixelForValue(t.y0), bottom = sy.getPixelForValue(t.y1);
      const w = right - left, h = bottom - top;
      g.fillStyle = treeColors[t.term];
      g.fillRect(left, top, w, h);
      const inner = treeInner[t.term];
      if (inner) {
        g.strokeStyle = 'rgba(255,255,255,.3)';
        g.lineWidth = 1;
        const rh = h / inner[0], cw = w / inner[1];
        for (let r = 0; r < inner[0]; r++) {
          g.beginPath();
          if (r) { g.moveTo(left, top + r * rh); g.lineTo(right, top + r * rh); }
          for (let c = 1; c < inner[1]; c++) {
            const lx = left + (c - (r % 2) * 0.4) * cw;
            g.moveTo(lx, top + r * rh);
            g.lineTo(lx, top + (r + 1) * rh);
          }
          g.stroke();
        }
      }
      g.strokeStyle = '#fff';
      g.lineWidth = 1.2;
      g.strokeRect(left, top, w, h);
      const lines = treeLabels[t.term];
      g.font = `bold 10px ${sans}`;
      const widest = Math.max(...lines.map(s => g.measureText(s).width)) / 10;
      const size = Math.min((w * 0.92) / widest, (h / lines.length) * 0.7);
      const leading = Math.min(size * 1.4, h / lines.length);
      g.font = `bold ${size}px ${sans}`;
      g.fillStyle = size >= 14 ? '#000' : size >= 8 ? 'rgba(0,0,40,.72)' : 'rgba(0,0,40,.55)';
      g.textAlign = 'center';
      g.textBaseline = 'middle';
      lines.forEach((s, i) => {
        g.fillText(s, left + w / 2, top + h / 2 + (i - (lines.length - 1) / 2) * leading);
      });
    });
    g.restore();
  }
};
addChart(680, 1002, 460, 260, {
  type: 'scatter',
  data: { datasets: [{ data: [] }] },
  options: {
    layout: { padding: { left: 4, right: 8, bottom: 6 } },
    plugins: { title: { display: true, text: 'M2', color: '#222', font: { size: 10, weight: 'bold' }, padding: { top: 4, bottom: 4 } } },
    scales: {
      x: { display: false, min: 0, max: 1 },
      y: { display: false, reverse: true, min: 0, max: 1 }
    }
  },
  plugins: [treemapPlugin]
});
</script>
</body>
</html>
